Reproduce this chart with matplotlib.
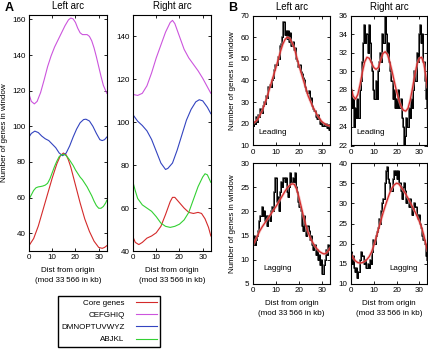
import numpy as np
import matplotlib
matplotlib.use("Agg")
import matplotlib.pyplot as plt

plt.rcParams['font.family'] = ['Liberation Sans', 'DejaVu Sans']
plt.rcParams['font.size'] = 5.8

# ---------------- panel A: smoothed gene counts ----------------
a_left_red_x = [0, 2, 4, 6, 8, 10, 12, 13.5, 14.8, 16, 17, 18, 19, 20, 22, 24, 26, 28, 30, 31.5, 32.5, 33.5]
a_left_red_y = [33, 37, 44, 53, 62, 71, 79, 83.5, 85, 84, 81, 77, 72, 67, 57, 48, 41, 35.5, 32, 31.5, 32, 33]

a_left_mag_x = [0, 1, 2.3, 3.5, 5, 6.5, 8, 9.5, 11, 12.5, 14, 15.5, 17, 18, 19, 20, 21, 22, 23, 24, 25, 26, 27, 28, 29, 30, 31, 32, 33.5]
a_left_mag_y = [118, 114, 112.6, 114, 119, 126, 133.5, 139.5, 144.5, 148.5, 152.5, 156.5, 159.8, 160.8, 160.3, 158.3, 155, 152.5, 151.5, 151.5, 151.5, 150.5, 148, 144, 139, 133.5, 128, 123, 118.5]

a_left_blue_x = [0, 1, 2.5, 4, 5.5, 7, 8.5, 10, 11.5, 13, 14.5, 16, 17.5, 19, 20.5, 22, 23.5, 24.5, 26, 27.5, 29, 30.5, 31.5, 32.5, 33.5]
a_left_blue_y = [94, 96, 97.3, 96.5, 94.5, 93, 92, 90, 88, 85, 83.5, 85, 89, 94, 98.5, 102, 103.8, 104, 103, 100, 96, 92.5, 92, 92.5, 94]

a_left_green_x = [0, 1, 2, 3, 4, 5, 6, 7, 8, 9, 10, 11, 12, 13, 14, 15, 16, 17, 18, 19, 20, 21, 22, 23, 24, 25, 26, 27, 28, 29, 30, 31, 32, 33, 33.5]
a_left_green_y = [59, 61.5, 64, 65.5, 66, 66.2, 66.5, 67, 68, 70.5, 74, 77.5, 80.5, 83, 84, 84.3, 83.5, 82, 80, 78, 75.5, 73.5, 71.5, 70, 68, 66, 63.5, 61, 58, 55.5, 54, 54, 55, 57, 58.5]

a_right_red_x = [0, 1, 2.5, 4, 6, 8, 10, 12, 14, 16, 17, 18, 20, 22, 24, 26, 28, 29.5, 31, 32.5, 33.5]
a_right_red_y = [46.5, 44, 43, 44, 46, 47, 48.5, 51.5, 57, 63, 65, 65, 62.5, 60, 58, 57.5, 58, 57.5, 55, 51, 47]

a_right_mag_x = [0, 2, 4, 6, 8, 10, 12, 14, 16, 17, 18, 20, 22, 24, 26, 28, 30, 32, 33.5]
a_right_mag_y = [113, 112.5, 113.5, 117, 123, 130, 136, 142, 146.5, 147.5, 146, 140, 134, 130, 127, 124, 120.5, 116.5, 113.5]

a_right_blue_x = [0, 2, 4, 6, 8, 10, 12, 14, 15, 17, 19, 21, 23, 25, 27, 28.5, 30, 32, 33.5]
a_right_blue_y = [103.5, 100.5, 98.5, 96, 92, 86.5, 81, 78, 78.5, 81, 87, 94, 101, 106, 109.5, 110.5, 110, 107, 104]

a_right_green_x = [0, 1, 2, 4, 6, 8, 10, 12, 14, 16, 18, 20, 22, 24, 26, 28, 30, 31, 32, 33.5]
a_right_green_y = [72, 68, 64.5, 61.5, 60, 58.5, 56, 53, 51.5, 51, 51.5, 52.5, 54.5, 58, 64, 70, 74.5, 76, 75.5, 72]

legend_labels = ["Core genes", "CEFGHIQ", "DMNOPTUVWYZ", "ABJKL"]

# ---------------- panel B: window counts (step 0.5 kb) and fits ----------------
win_step = 0.5
lead_left_raw = [19, 21, 20, 23, 21, 24, 23, 27, 25, 28, 30, 29, 33, 32, 37, 38, 37, 40, 41, 45,
                 47, 47, 51, 50, 56, 57, 60, 67, 61, 63, 59, 63, 58, 62, 56, 58, 54, 55, 50, 49,
                 46, 47, 44, 43, 41, 40, 37, 35, 34, 35, 31, 32, 28, 27, 26, 23, 22, 24, 22, 20,
                 21, 19, 20, 19, 20, 18, 19, 17]
lead_left_fit_x = [0, 2, 4, 6, 8, 10, 12, 13, 14, 15, 16, 17, 18, 20, 22, 24, 26, 28, 30, 32, 33.5]
lead_left_fit_y = [20, 22, 26, 32, 39, 46, 53.5, 56.8, 59, 60, 59.5, 57.5, 55, 47, 40, 33, 28, 24, 21, 19.5, 19]

lead_right_raw = [28, 26, 27, 24, 26, 25, 27, 25, 28, 29, 31, 33, 35, 33, 34, 32, 35, 33, 31, 30,
                  28, 27, 29, 27, 30, 31, 32, 31, 34, 33, 36, 34, 32, 33, 31, 30, 29, 27, 28, 26,
                  27, 26, 28, 26, 27, 25, 24, 22, 23, 25, 24, 26, 25, 27, 26, 28, 30, 29, 32, 31,
                  34, 35, 33, 34, 31, 29, 27, 26]
lead_right_fit_x = [0, 1, 2, 3, 4, 5, 6, 7, 8, 9, 10, 11, 12, 13, 14, 15, 16, 17, 18, 19, 20, 21,
                    22, 23, 24, 25, 26, 27, 28, 29, 30, 31, 32, 33, 33.5]
lead_right_fit_y = [28.2, 27.3, 27.0, 27.5, 28.6, 29.9, 31.0, 31.5, 31.4, 30.9, 30.4, 30.2, 30.4,
                    31.2, 31.9, 32.1, 31.8, 31.0, 30.0, 28.9, 27.8, 26.9, 26.2, 25.8, 25.7, 26.0,
                    26.9, 28.2, 29.6, 30.8, 31.4, 31.5, 30.8, 29.2, 28.3]

lag_left_raw = [13, 15, 13, 14, 15, 16, 18, 19, 21, 19, 20, 18, 19, 17, 19, 18, 20, 21, 20, 24,
                27, 22, 23, 20, 24, 26, 25, 27, 26, 27, 24, 23, 25, 28, 26, 27, 26, 28, 25, 24,
                22, 21, 20, 17, 16, 19, 17, 15, 17, 16, 14, 15, 13, 12, 13, 11, 12, 10, 11, 9,
                10, 7, 9, 10, 12, 11, 13, 12]
lag_left_fit_x = [0, 1, 2, 3, 4, 5, 6, 7, 8, 9, 10, 11, 12, 13, 14, 15, 16, 17, 18, 19, 20, 21,
                  22, 23, 24, 25, 26, 27, 28, 29, 30, 31, 32, 33, 33.5]
lag_left_fit_y = [13, 14, 15, 16, 16.8, 17.5, 18.2, 18.9, 19.6, 20.3, 21, 21.8, 22.6, 23.4, 24.2,
                  24.9, 25.4, 25.7, 25.6, 24.6, 23, 21, 19, 17.2, 15.7, 14.5, 13.6, 12.8, 12.2,
                  11.7, 11.4, 11.2, 11.4, 12, 12.4]

lag_right_raw = [18, 15, 17, 14, 13, 14, 11.5, 13, 16, 18, 17, 17, 15, 16, 14, 15, 14, 16, 15, 18,
                 21, 20, 22, 23, 24, 26, 25, 28, 30, 31, 35, 38, 39, 36, 35, 33, 33, 36, 38, 37,
                 38, 36, 38, 35, 33, 31, 34, 35, 33, 30, 31, 29, 31, 29, 27, 28, 30, 29, 27, 26,
                 27, 25, 24, 22, 21, 20, 17, 16]
lag_right_fit_x = [0, 1, 2, 3, 4, 5, 6, 7, 8, 9, 10, 11, 12, 13, 14, 15, 16, 17, 18, 19, 20, 21,
                   22, 23, 24, 25, 26, 27, 28, 29, 30, 31, 32, 33, 33.5]
lag_right_fit_y = [17.5, 16.4, 15.7, 15.3, 15.2, 15.3, 15.6, 16.1, 16.8, 17.9, 19.5, 21.4, 23.5,
                   25.5, 27.5, 29.3, 31, 32.6, 33.8, 34.6, 35, 34.8, 34, 33.2, 32.3, 31.3, 30.2,
                   29.1, 28, 26.8, 25.5, 24, 22, 19.5, 18.3]

XMAX = 33.566
c_red, c_mag, c_blue, c_green = '#d42a2a', '#cc55dd', '#3344c0', '#33d033'

fig = plt.figure(figsize=(4.28, 3.49), dpi=100)


def px_axes(l, t, r, b):
    return fig.add_axes([l / 428, 1 - b / 349, (r - l) / 428, (b - t) / 349])


def style(ax, ylim, yticks):
    ax.set_xlim(0, XMAX)
    ax.set_ylim(*ylim)
    ax.set_xticks([0, 10, 20, 30])
    ax.set_yticks(yticks)
    ax.tick_params(direction='in', top=True, right=True, length=2.5, width=0.6, pad=2.5)
    for s in ax.spines.values():
        s.set_linewidth(0.8)


xlab = "Dist from origin\n(mod 33\u2009566 in kb)"

# panel A
axL = px_axes(29, 15, 107, 251)
axL.plot(a_left_red_x, a_left_red_y, color=c_red, lw=0.8)
axL.plot(a_left_mag_x, a_left_mag_y, color=c_mag, lw=0.8)
axL.plot(a_left_blue_x, a_left_blue_y, color=c_blue, lw=0.8)
axL.plot(a_left_green_x, a_left_green_y, color=c_green, lw=0.8)
style(axL, (30, 162.5), range(40, 161, 20))
axL.set_title("Left arc", pad=4)
axL.set_ylabel("Number of genes in window", labelpad=3)
axL.set_xlabel(xlab, labelpad=4, linespacing=1.5)

axR = px_axes(133, 15, 211, 251)
hr = axR.plot(a_right_red_x, a_right_red_y, color=c_red, lw=0.8)
hm = axR.plot(a_right_mag_x, a_right_mag_y, color=c_mag, lw=0.8)
hb = axR.plot(a_right_blue_x, a_right_blue_y, color=c_blue, lw=0.8)
hg = axR.plot(a_right_green_x, a_right_green_y, color=c_green, lw=0.8)
style(axR, (40, 150), range(40, 141, 20))
axR.set_title("Right arc", pad=4)
axR.set_xlabel(xlab, labelpad=4, linespacing=1.5)

fig.legend(hr + hm + hb + hg, legend_labels, loc='center', bbox_to_anchor=(0.2547, 0.079),
           markerfirst=False, frameon=True, fancybox=False, edgecolor='black',
           framealpha=1, handlelength=2.6, handletextpad=1.4, labelspacing=0.55,
           borderpad=0.45, fontsize=5.8)

# panel B
panels = [
    ((253, 15.5, 330, 145.5), lead_left_raw, lead_left_fit_x, lead_left_fit_y, (10, 70), range(10, 71, 10), "Leading", (0.07, 0.07)),
    ((351, 15.5, 427.5, 145.5), lead_right_raw, lead_right_fit_x, lead_right_fit_y, (22, 36), range(22, 37, 2), "Leading", (0.07, 0.07)),
    ((253, 163, 330, 284), lag_left_raw, lag_left_fit_x, lag_left_fit_y, (5, 30), range(5, 31, 5), "Lagging", (0.14, 0.1)),
    ((351, 163, 427.5, 284), lag_right_raw, lag_right_fit_x, lag_right_fit_y, (10, 40), range(10, 41, 5), "Lagging", (0.5, 0.1)),
]
for i, (box, raw, fx, fy, ylim, yt, lab, lpos) in enumerate(panels):
    ax = px_axes(*box)
    xs = np.arange(len(raw)) * win_step
    ax.plot(xs, raw, color='#555555', lw=1.3, drawstyle='steps-mid')
    ax.plot(xs, raw, color='black', lw=0.7, drawstyle='steps-mid')
    ax.plot(fx, fy, color='#f2a0a0', lw=2.0, alpha=0.6)
    ax.plot(fx, fy, color=c_red, lw=0.9)
    style(ax, ylim, yt)
    ax.text(lpos[0], lpos[1], lab, transform=ax.transAxes, ha='left', va='bottom')
    if i == 0:
        ax.set_title("Left arc", pad=4)
    if i == 1:
        ax.set_title("Right arc", pad=4)
    if i in (0, 2):
        ax.set_ylabel("Number of genes in window", labelpad=3)
    if i in (2, 3):
        ax.set_xlabel(xlab, labelpad=4, linespacing=1.5)

fig.text(5 / 428, 1 - 8 / 349, "A", weight='bold', size=9, va='center', ha='left')
fig.text(228 / 428, 1 - 8 / 349, "B", weight='bold', size=9, va='center', ha='left')

fig.savefig("out.png", dpi=100)
